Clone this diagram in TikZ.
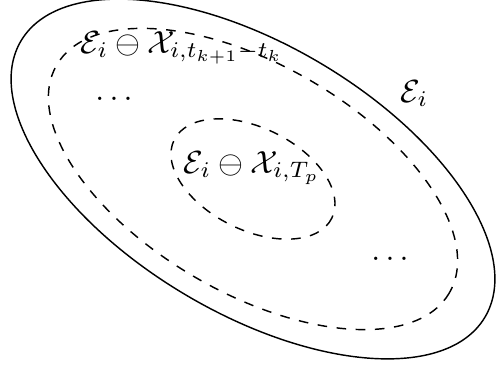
\documentclass[tikz,border=0pt]{standalone}
\usepackage{amsmath,amssymb}
\begin{document}
\begin{tikzpicture}[x=0.3125pt,y=-0.3125pt,
  region/.style={line width=0.45pt},
  inner/.style={region,dashed},
  lbl/.style={inner sep=0pt,anchor=base west}]
\useasboundingbox (0,0) rectangle (496,366);
\clip (0,0) rectangle (496,366);
\coordinate (c) at (253,179);
\draw[region,rotate around={-30.8:(c)}] (c) ellipse [x radius=270, y radius=134];
\draw[inner,rotate around={-30.1:(c)}] (c) ellipse [x radius=227, y radius=114];
\draw[inner,rotate around={-26.4:(c)}] (c) ellipse [x radius=88, y radius=51];
\node[lbl] (top) at (80,53) {$\mathcal{E}_i \ominus \mathcal{X}_{i,t_{k+1}-t_k}$};
\node[lbl] (mid) at (183,173) {$\mathcal{E}_i \ominus \mathcal{X}_{i,T_p}$};
\node[lbl] (ei) at (400,102) {$\mathcal{E}_i$};
\node[inner sep=0pt,anchor=base] (d1) at (114,100) {$\ldots$};
\node[inner sep=0pt,anchor=base] (d2) at (390,260) {$\ldots$};
\end{tikzpicture}
\end{document}
